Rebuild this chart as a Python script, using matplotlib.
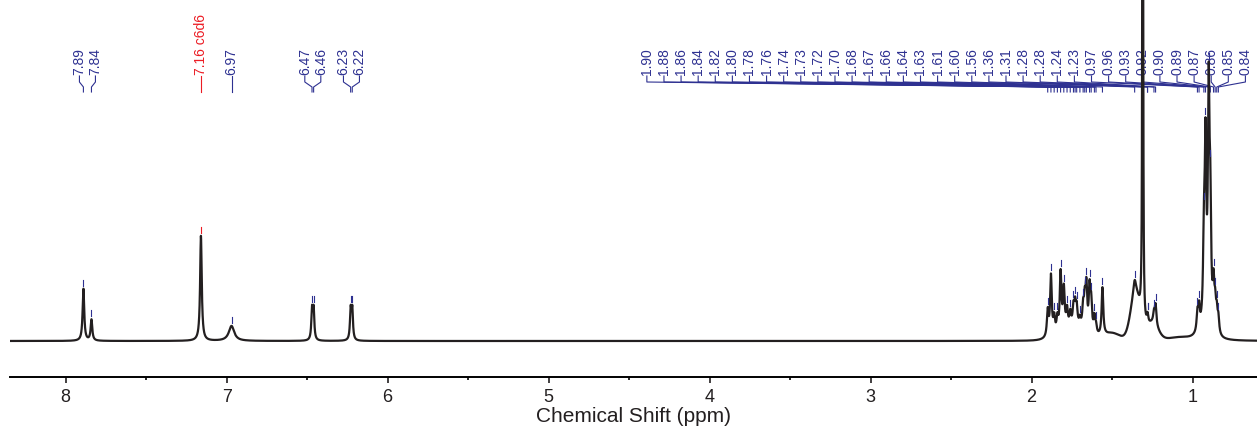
import numpy as np
import matplotlib.pyplot as plt

plt.rcParams['font.family'] = ['Liberation Sans', 'DejaVu Sans']

# aromatic / olefinic peaks: shift (ppm), height (a.u.), half width (ppm)
arom_shift = [7.89, 7.84, 7.16, 6.97, 6.47, 6.46, 6.23, 6.22]
arom_height = [52, 21, 105, 15, 30, 30, 30, 30]
arom_width = [0.006, 0.006, 0.006, 0.02, 0.005, 0.005, 0.005, 0.005]

# aliphatic peaks
aliph_shift = [1.90, 1.88, 1.86, 1.84, 1.82, 1.80, 1.78, 1.76, 1.74, 1.73,
               1.72, 1.70, 1.68, 1.67, 1.66, 1.64, 1.63, 1.61, 1.60, 1.56,
               1.36, 1.31, 1.28, 1.28, 1.24, 1.23, 0.97, 0.96, 0.93, 0.92,
               0.90, 0.89, 0.87, 0.86, 0.85, 0.84]
aliph_height = [26, 60, 16, 14, 58, 40, 18, 14, 18, 20,
                18, 8, 20, 26, 42, 42, 28, 16, 8, 48,
                14, 2000, 5, 5, 10, 20, 18, 22, 75, 175,
                228, 105, 42, 24, 19, 15]
aliph_width = ([0.006] * 20 + [0.01, 0.0015, 0.006, 0.006, 0.006, 0.006]
               + [0.006] * 10)

# broad humps under the aliphatic multiplets: centre, height, sigma (ppm)
hump_center = [1.74, 1.355, 1.25, 1.50, 1.08, 0.93]
hump_height = [12, 45, 16, 7, 3, 4]
hump_sigma = [0.08, 0.03, 0.035, 0.05, 0.07, 0.04]

solvent_shift = 7.16
solvent_name = "c6d6"

# label groups drawn as multiplet brackets
label_groups = [[7.89, 7.84], [7.16], [6.97], [6.47, 6.46], [6.23, 6.22]]
cluster_band = (4.39, 0.672)   # ppm span used to spread the aliphatic labels

NAVY = '#2e3191'
RED = '#ec1c24'
INK = '#231f20'

XMAX, XMIN = 8.346, 0.600
ppm = np.linspace(8.4, 0.55, 60000)


def spectrum(x):
    y = np.zeros_like(x, dtype=float)
    for c, h, w in zip(arom_shift + aliph_shift, arom_height + aliph_height,
                       arom_width + aliph_width):
        y += h / (1 + ((x - c) / w) ** 2)
    for c, h, s in zip(hump_center, hump_height, hump_sigma):
        y += h * np.exp(-0.5 * ((x - c) / s) ** 2)
    return y


fig = plt.figure(figsize=(12.57, 4.38), dpi=100)
ax = fig.add_axes([10 / 1257, 61 / 438, 1247 / 1257, 377 / 438])

ax.plot(ppm, spectrum(ppm), color=INK, lw=1.6, zorder=5)

for s in ['top', 'left', 'right']:
    ax.spines[s].set_visible(False)
ax.spines['bottom'].set_linewidth(1.4)
ax.set_yticks([])
ax.set_xticks(np.arange(1, 9))
ax.set_xticks(np.arange(1.5, 8.0, 1.0), minor=True)
ax.set_xlim(XMAX, XMIN)
ax.set_ylim(-36, 341)
ax.tick_params(axis='x', which='major', direction='out', length=4.5, width=1.2,
               labelsize=13, pad=4, colors=INK)
ax.tick_params(axis='x', which='minor', direction='out', length=2.2, width=1.2)
ax.set_xlabel('Chemical Shift (ppm)', fontsize=15, labelpad=1, color=INK)

# pixels -> ppm along x
px = (XMAX - XMIN) / 1247.0

text_y, stub_lo, slant_lo, tick_lo = 266, 259, 254, 249


def leader(label_x, peak_x, color):
    ax.plot([label_x, label_x, peak_x, peak_x],
            [text_y - 1, stub_lo, slant_lo, tick_lo],
            color=color, lw=0.8, zorder=3)


def peak_mark(peak_x, color):
    top = spectrum(np.array([peak_x]))[0]
    if top + 10 < 300:
        ax.plot([peak_x, peak_x], [top + 3, top + 9], color=color, lw=0.8, zorder=6)


for grp in label_groups:
    mid = np.mean(grp)
    offs = (np.arange(len(grp)) - (len(grp) - 1) / 2) * 16 * px
    for s, o in zip(grp, offs):
        lx = mid - o
        col = RED if s == solvent_shift else NAVY
        txt = f'{s:.2f}'
        if s == solvent_shift:
            txt += ' ' + solvent_name
        ax.text(lx, text_y, txt, rotation=90, ha='center', va='bottom',
                fontsize=10, color=col)
        leader(lx, s, col)
        peak_mark(s, col)

cluster_x = np.linspace(cluster_band[0], cluster_band[1], len(aliph_shift))
for s, lx in zip(aliph_shift, cluster_x):
    ax.text(lx, text_y, f'{s:.2f}', rotation=90, ha='center', va='bottom',
            fontsize=10, color=NAVY)
    leader(lx, s, NAVY)
    peak_mark(s, NAVY)

fig.savefig('out.png', dpi=100)
